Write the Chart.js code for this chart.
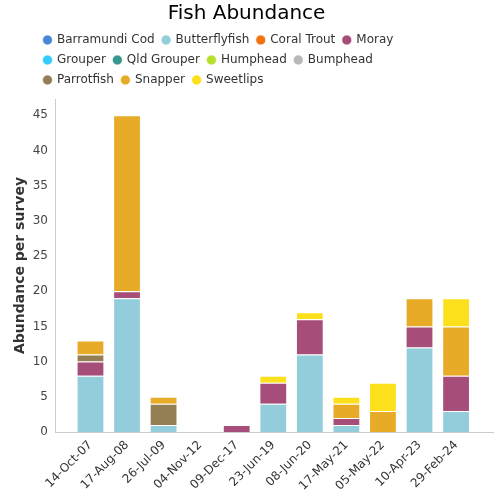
<!DOCTYPE html>
<html>
<head>
<meta charset="utf-8">
<script src="https://cdn.jsdelivr.net/npm/chart.js@4"></script>
<style>
  body { margin: 0; background: #fff; }
</style>
</head>
<body>
<canvas id="grafico" width="500" height="500"></canvas>
<script>
// survey dates
var datas = ["14-Oct-07", "17-Aug-08", "26-Jul-09", "04-Nov-12", "09-Dec-17", "23-Jun-19",
             "08-Jun-20", "17-May-21", "05-May-22", "10-Apr-23", "29-Feb-24"];

// abundance per survey, one array per species
var barramundiCod = [0, 0, 0, 0, 0, 0, 0, 0, 0, 0, 0];
var butterflyfish = [8, 19, 1, 0, 0, 4, 11, 1, 0, 12, 3];
var coralTrout    = [0, 0, 0, 0, 0, 0, 0, 0, 0, 0, 0];
var moray         = [2, 1, 0, 0, 1, 3, 5, 1, 0, 3, 5];
var grouper       = [0, 0, 0, 0, 0, 0, 0, 0, 0, 0, 0];
var qldGrouper    = [0, 0, 0, 0, 0, 0, 0, 0, 0, 0, 0];
var humphead      = [0, 0, 0, 0, 0, 0, 0, 0, 0, 0, 0];
var bumphead      = [0, 0, 0, 0, 0, 0, 0, 0, 0, 0, 0];
var parrotfish    = [1, 0, 3, 0, 0, 0, 0, 0, 0, 0, 0];
var snapper       = [2, 25, 1, 0, 0, 0, 0, 2, 3, 4, 7];
var sweetlips     = [0, 0, 0, 0, 0, 1, 1, 1, 4, 0, 4];

var yTicks = [0, 5, 10, 15, 20, 25, 30, 35, 40, 45];

var larguraLegenda = 375;

function serie(nome, cor, valores) {
	return {
		label: nome,
		backgroundColor: cor,
		borderColor: "rgba(255,255,255,0.6)",
		borderWidth: 1,
		data: valores
	};
}

// legenda: quebra de linha mais estreita e deslocada como no original
var ajusteLegenda = {
	id: "ajusteLegenda",
	afterInit: function(chart) {
		var lg = chart.legend;
		var upd = lg.update;
		lg.update = function(w, h, m) {
			upd.call(this, Math.min(w, larguraLegenda), h, m);
			this.height = 73;
		};
		var drw = lg.draw;
		lg.draw = function(area) {
			var c = this.ctx;
			var r = this.right;
			this.right = this.left + larguraLegenda;
			c.save();
			c.translate(36, 0);
			drw.call(this, area);
			c.restore();
			this.right = r;
		};
	}
};

Chart.defaults.font.family = "'DejaVu Sans', sans-serif";
Chart.defaults.color = "#333";

new Chart(document.getElementById("grafico"), {
	type: "bar",
	data: {
		labels: datas.map(function(d, i) { return i; }),
		datasets: [
			serie("Barramundi Cod", "#4a86d6", barramundiCod),
			serie("Butterflyfish", "#93cddb", butterflyfish),
			serie("Coral Trout", "#f5730f", coralTrout),
			serie("Moray", "#a64d79", moray),
			serie("Grouper", "#33ccff", grouper),
			serie("Qld Grouper", "#38968f", qldGrouper),
			serie("Humphead", "#b6e12a", humphead),
			serie("Bumphead", "#b8b8b8", bumphead),
			serie("Parrotfish", "#937f53", parrotfish),
			serie("Snapper", "#e8ab28", snapper),
			serie("Sweetlips", "#fde01c", sweetlips)
		]
	},
	plugins: [ajusteLegenda],
	options: {
		responsive: false,
		animation: false,
		layout: { padding: { left: 0, right: 7, top: 0, bottom: 0 } },
		datasets: { bar: { categoryPercentage: 1, barPercentage: 0.76 } },
		plugins: {
			title: {
				display: true,
				text: "Fish Abundance",
				color: "#000",
				font: { size: 20, weight: "normal" },
				padding: { top: 2, bottom: 0 }
			},
			legend: {
				display: true,
				align: "start",
				labels: {
					usePointStyle: true,
					pointStyle: "circle",
					boxWidth: 7,
					boxHeight: 7,
					padding: 8,
					color: "#333",
					font: { size: 12 }
				}
			},
			tooltip: { enabled: false }
		},
		scales: {
			x: {
				type: "linear",
				stacked: true,
				offset: false,
				min: -0.97,
				max: 11.01,
				afterBuildTicks: function(s) {
					s.ticks = datas.map(function(d, i) { return { value: i }; });
				},
				afterFit: function(s) { s.height = 68; },
				grid: { display: false, drawTicks: false },
				border: { display: true, color: "#ccc", width: 1 },
				ticks: {
					autoSkip: false,
					minRotation: 45,
					maxRotation: 45,
					padding: 6,
					color: "#333",
					font: { size: 12 },
					callback: function(v) { return datas[v]; }
				}
			},
			y: {
				stacked: true,
				min: 0,
				max: 47.3,
				afterBuildTicks: function(s) {
					s.ticks = yTicks.map(function(v) { return { value: v }; });
				},
				afterFit: function(s) { s.width = 55; },
				grid: { display: false, drawTicks: false },
				border: { display: true, color: "#ccc", width: 1 },
				ticks: { padding: 7, color: "#444", font: { size: 12 } },
				title: {
					display: true,
					text: "Abundance per survey",
					color: "#333",
					font: { size: 14, weight: "bold" },
					padding: { top: 12, bottom: 0 }
				}
			}
		}
	}
});
</script>
</body>
</html>
